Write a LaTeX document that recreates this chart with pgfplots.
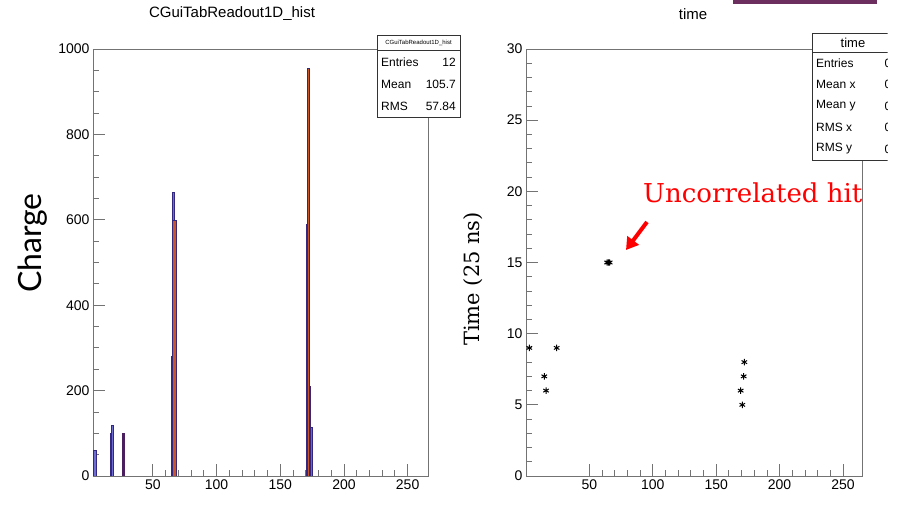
\documentclass[border=0pt]{standalone}
\usepackage{fontspec}
\setmainfont{Liberation Sans}
\newfontfamily\slab{DejaVu Serif}
\newfontfamily\gill{Lato}
\usepackage{pgfplots}
\pgfplotsset{compat=1.18}
\usetikzlibrary{arrows.meta}

\definecolor{horange}{RGB}{205,85,35}
\definecolor{hnavy}{RGB}{50,40,130}
\definecolor{hblue}{RGB}{110,110,210}
\definecolor{hpurple}{RGB}{75,30,95}
\definecolor{topbar}{RGB}{108,45,95}

\pgfplotsset{rootstyle/.style={
    scale only axis,
    anchor=south west,
    axis line style={black!55},
    tick style={black!55, line width=0.8pt},
    tick align=inside,
    tick pos=left,
    major tick length=12pt,
    minor tick length=6pt,
    minor x tick num=4,
    ticklabel style={font=\fontsize{14}{16}\selectfont},
    /pgf/number format/assume math mode=true,
    /pgf/number format/1000 sep={},
    xtick={50,100,150,200,250},
}}
\pgfplotsset{hbar/.style={ybar, bar shift=0pt, bar width=#1, line width=0.3pt}}

\begin{document}
\begin{tikzpicture}[x=1pt,y=1pt]
\path[use as bounding box] (0,0) rectangle (898,505);
\fill[topbar] (733,501) rectangle (877,505);

% left panel: charge histogram
\begin{axis}[rootstyle,
    at={(93pt,29pt)}, width=335pt, height=427pt,
    xmin=3, xmax=266, ymin=0, ymax=1000,
    ytick={0,200,400,600,800,1000},
    minor y tick num=3,
    ]
\addplot[hbar=2.4, fill=hblue, draw=hnavy] coordinates {(4.2,60)};
\addplot[hbar=1.2, fill=horange, draw=hnavy] coordinates {(16.9,100)};
\addplot[hbar=1.2, fill=hblue, draw=hnavy] coordinates {(18.1,120)};
\addplot[hbar=1.5, fill=hpurple, draw=hpurple] coordinates {(26.55,100)};
\addplot[hbar=1.5, fill=hblue, draw=hnavy] coordinates {(65.75,665)};
\addplot[hbar=1.3, fill=horange, draw=hnavy] coordinates {(64.85,280)};
\addplot[hbar=3.1, fill=horange, draw=hnavy] coordinates {(67.05,600)};
\addplot[hbar=0.8, fill=horange, draw=hnavy] coordinates {(170.4,590)};
\addplot[hbar=2.1, fill=horange, draw=hnavy] coordinates {(171.85,955)};
\addplot[hbar=0.5, fill=horange, draw=hnavy] coordinates {(173.15,210)};
\addplot[hbar=1.3, fill=horange, draw=hnavy] coordinates {(174.05,115)};
\end{axis}

% right panel: time vs channel
\begin{axis}[rootstyle,
    at={(526pt,29pt)}, width=336pt, height=427pt,
    xmin=0, xmax=265, ymin=0, ymax=30,
    ytick={0,5,10,15,20,25,30},
    minor y tick num=4,
    ]
\addplot[only marks, mark=asterisk, mark size=3.2pt, black, line width=1pt]
  coordinates {(2.6,9) (24.2,9) (14.4,7) (15.8,6)
               (64,15) (65,15) (66,15)
               (172.2,8) (171.7,7) (169.3,6) (170.6,5)};
\end{axis}

% titles and labels
\node[font=\fontsize{15}{18}\selectfont] at (232,491) {CGuiTabReadout1D\_hist};
\node[font=\fontsize{15}{18}\selectfont] at (693,491) {time};
\node[rotate=90, font=\gill\fontsize{32}{36}\selectfont] at (33,262) {Charge};
\node[rotate=90, font=\slab\fontsize{21}{24}\selectfont] at (473,226) {Time (25 ns)};
\node[anchor=west, inner sep=0pt, text=red, font=\slab\fontsize{26}{30}\selectfont] at (643,312) {Uncorrelated hit};
\draw[red, line width=4pt, -{Triangle[length=12pt,width=14pt]}] (647,283) -- (626,255);

% stats box left
\draw[black!80, fill=white, line width=0.6pt] (377,470) rectangle (460,388);
\draw[black!80, line width=0.6pt] (377,455) -- (460,455);
\node[font=\fontsize{6}{7}\selectfont] at (418.5,462.5) {CGuiTabReadout1D\_hist};
\begin{scope}[font=\fontsize{12}{14}\selectfont]
\node[anchor=west, inner sep=0pt] at (381,443) {Entries};
\node[anchor=east, inner sep=0pt] at (456,443) {12};
\node[anchor=west, inner sep=0pt] at (381,421) {Mean};
\node[anchor=east, inner sep=0pt] at (456,421) {105.7};
\node[anchor=west, inner sep=0pt] at (381,399) {RMS};
\node[anchor=east, inner sep=0pt] at (456,399) {57.84};
\end{scope}

% stats box right (cut at the slide edge)
\begin{scope}
\clip (800,330) rectangle (887.5,480);
\draw[black!80, fill=white, line width=0.6pt] (812,472) rectangle (910,345);
\draw[black!80, line width=0.6pt] (812,453) -- (910,453);
\node[font=\fontsize{13}{15}\selectfont] at (853,462) {time};
\begin{scope}[font=\fontsize{12}{14}\selectfont]
\node[anchor=west, inner sep=0pt] at (816,442) {Entries};
\node[anchor=west, inner sep=0pt] at (816,421) {Mean x};
\node[anchor=west, inner sep=0pt] at (816,399) {Mean y};
\node[anchor=west, inner sep=0pt] at (816,378) {RMS x};
\node[anchor=west, inner sep=0pt] at (816,356) {RMS y};
\foreach \yy in {442,421,399,378,356} {
  \node[anchor=west, inner sep=0pt] at (884.5,\yy) {0};
}
\end{scope}
\end{scope}
\end{tikzpicture}
\end{document}
